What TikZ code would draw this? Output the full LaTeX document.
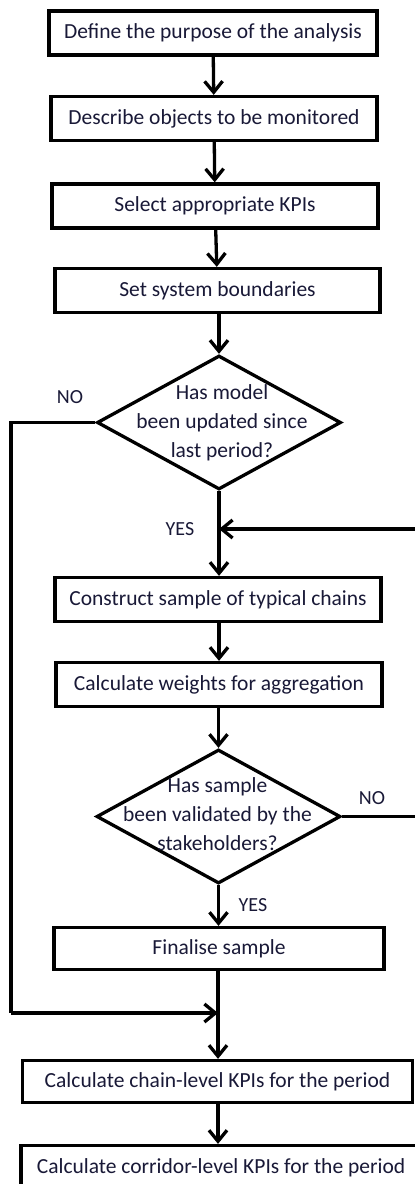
\documentclass[tikz,border=0pt]{standalone}
\usepackage{fontspec}
\setmainfont{Carlito}
\usepackage{tikz}
\usetikzlibrary{arrows.meta,shapes.geometric,positioning}
\usepackage{xcolor}
\definecolor{ink}{RGB}{25,25,55}

\begin{document}
\begin{tikzpicture}[
    x=1pt, y=-1pt,
    box/.style={rectangle, draw=black, line width=3.3pt, fill=white,
                minimum height=44pt, inner sep=0pt, text=ink,
                font=\fontsize{21.5}{28}\selectfont},
    decision/.style={diamond, draw=black, line width=3.3pt, fill=white,
                     minimum width=244pt, minimum height=134pt, inner sep=0pt},
    dtext/.style={align=center, text=ink, inner sep=0pt,
                  font=\fontsize{21.5}{29}\selectfont},
    answer/.style={text=ink, inner sep=0pt, font=\fontsize{20}{22}\selectfont},
    flow/.style={line width=3.3pt, -{Straight Barb[length=11pt,width=18pt]}},
    wire/.style={line width=3.3pt}
  ]
    \useasboundingbox (0,0) rectangle (415,1184);

    \node[box, minimum width=328pt] (purpose) at (213,33) {Define the purpose of the analysis};
    \node[box, minimum width=326pt] (objects) at (214,118.5) {Describe objects to be monitored};
    \node[box, minimum width=326pt] (kpis) at (215,206) {Select appropriate KPIs};
    \node[box, minimum width=325pt] (bounds) at (217.5,290.5) {Set system boundaries};

    \node[decision] (updated) at (219,422.5) {};
    \node[dtext] (updatedtext) at (222,423) {Has model\\been updated since\\last period?};

    \node[box, minimum width=326pt] (sample) at (218,599.5) {Construct sample of typical chains};
    \node[box, minimum width=326pt] (weights) at (219,684.5) {Calculate weights for aggregation};

    \node[decision] (valid) at (218.5,816.5) {};
    \node[dtext] (validtext) at (217.5,814) {Has sample\\been validated by the\\stakeholders?};

    \node[box, minimum width=330pt, minimum height=42pt] (final) at (219,948.5) {Finalise sample};
    \node[box, minimum width=390pt, minimum height=42pt] (chain) at (217.5,1081.5) {Calculate chain-level KPIs for the period};
    \node[box, minimum width=400pt] (corridor) at (221,1167.5) {Calculate corridor-level KPIs for the period};

    \coordinate (join1) at (219,529);
    \coordinate (join2) at (218,1013);
    \coordinate (noleft1) at (11,422.5);
    \coordinate (noleft2) at (11,1013);
    \coordinate (noright1) at (422,816.5);
    \coordinate (noright2) at (422,529);

    \draw[flow] (purpose) -- (objects);
    \draw[flow] (objects) -- (kpis);
    \draw[flow] (kpis) -- (bounds);
    \draw[flow] (bounds.south -| updated) -- (updated.north);
    \draw[flow] (updated.south) -- (sample.north -| updated);
    \draw[flow] (sample.south -| updated) -- (weights.north -| updated);
    \draw[flow] (weights.south -| valid) -- (valid.north);
    \draw[flow] (valid.south) -- (final.north -| valid);
    \draw[flow] (final.south -| join2) -- (chain.north -| join2);
    \draw[flow] (chain.south -| join2) -- (corridor.north -| join2);

    \draw[wire] (updated.west) -- (noleft1) -- (noleft2);
    \draw[flow] (noleft2) -- (join2);
    \draw[wire] (valid.east) -- (noright1) -- (noright2);
    \draw[flow] (noright2) -- (join1);

    \node[answer] (no1) at (70,397) {NO};
    \node[answer] (yes1) at (180,529) {YES};
    \node[answer] (no2) at (372,798) {NO};
    \node[answer] (yes2) at (253,905) {YES};
\end{tikzpicture}
\end{document}
